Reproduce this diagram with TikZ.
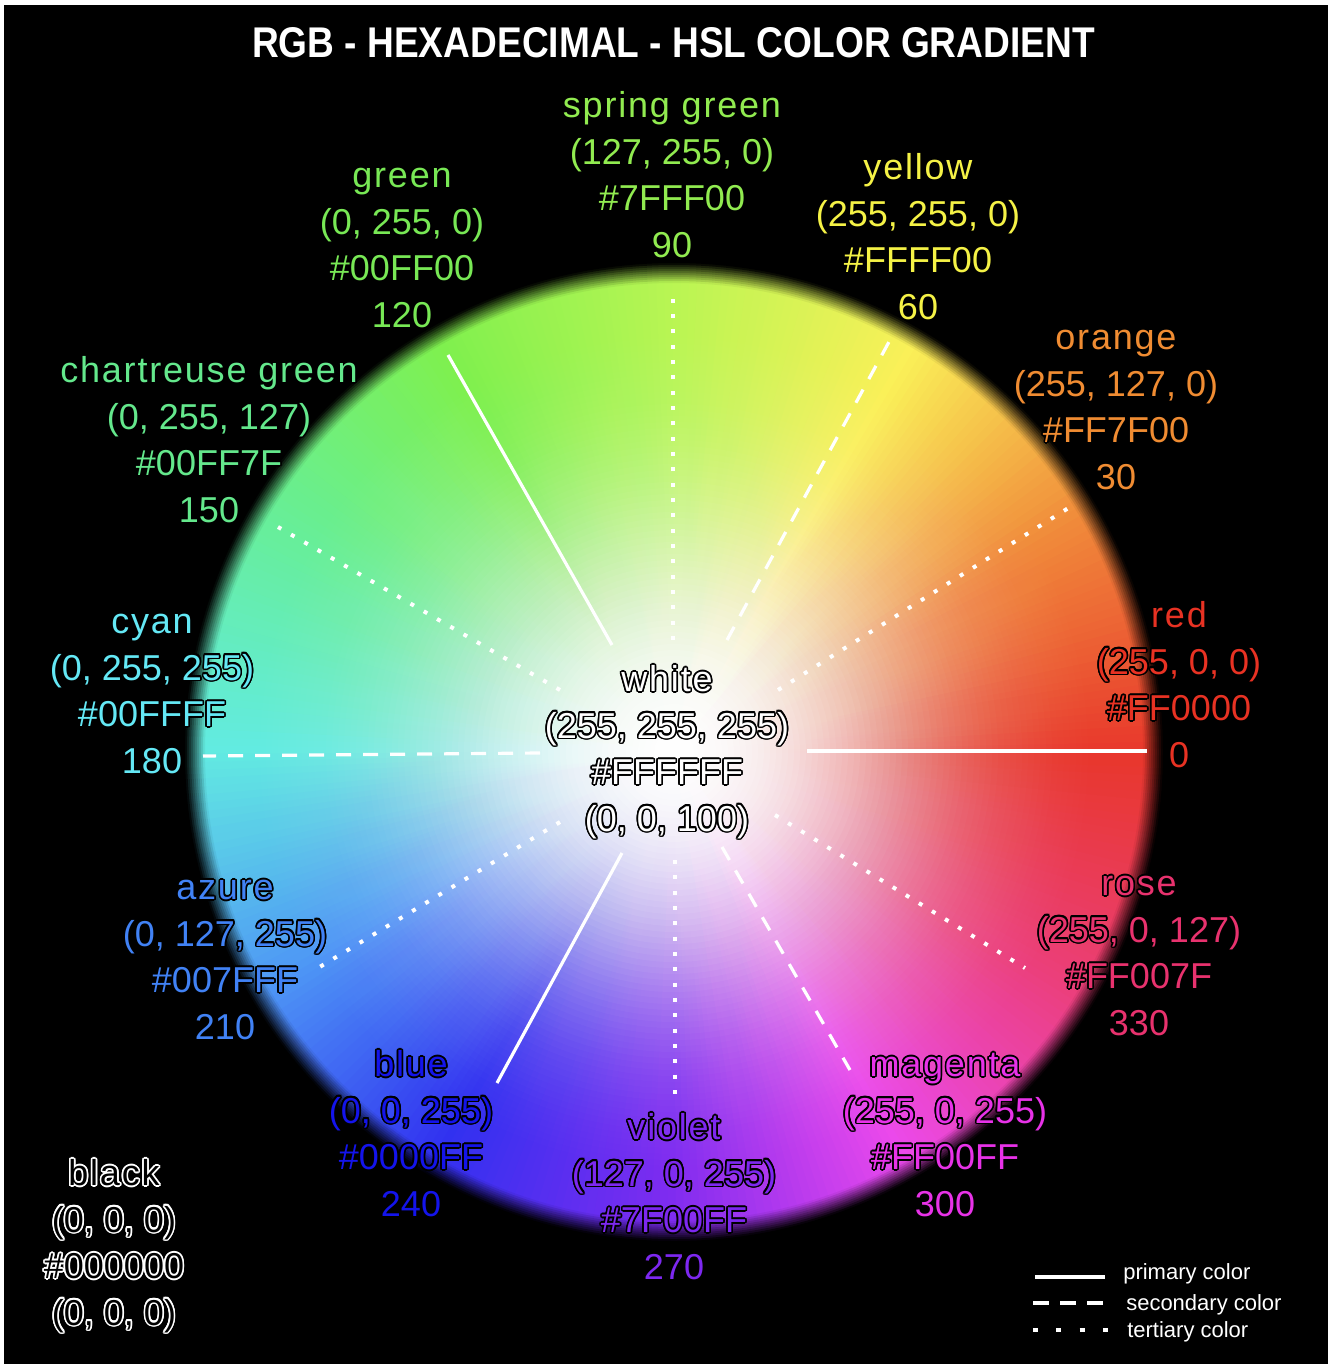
\documentclass[tikz,border=0pt]{standalone}
\usepackage{graphicx}
\usepackage{fontspec}
\setmainfont{Liberation Sans}
\newfontfamily\namefont{Liberation Sans}[LetterSpace=5]
\newfontfamily\numfont{Liberation Sans}

% wheel key colours (edge), every 30 degrees
\definecolor{k0}{RGB}{232,52,40}
\definecolor{k1}{RGB}{240,135,55}
\definecolor{k2}{RGB}{250,240,85}
\definecolor{k3}{RGB}{185,245,80}
\definecolor{k4}{RGB}{125,240,75}
\definecolor{k5}{RGB}{100,238,150}
\definecolor{k6}{RGB}{95,235,225}
\definecolor{k7}{RGB}{75,150,245}
\definecolor{k8}{RGB}{45,45,240}
\definecolor{k9}{RGB}{125,40,240}
\definecolor{k10}{RGB}{235,70,235}
\definecolor{k11}{RGB}{235,60,120}

% label colours
\definecolor{tSG}{RGB}{145,235,80}
\definecolor{tG}{RGB}{120,232,85}
\definecolor{tY}{RGB}{245,242,70}
\definecolor{tO}{RGB}{240,140,50}
\definecolor{tCh}{RGB}{100,232,140}
\definecolor{tR}{RGB}{232,50,35}
\definecolor{tC}{RGB}{100,232,245}
\definecolor{tA}{RGB}{65,130,245}
\definecolor{tRo}{RGB}{232,50,110}
\definecolor{tB}{RGB}{20,20,235}
\definecolor{tM}{RGB}{232,50,232}
\definecolor{tV}{RGB}{125,40,240}

% outlined text
\newlength\olw \setlength\olw{1.2pt}
\newcommand\olcp[4]{\makebox[0pt][l]{\hspace*{#1\olw}\raisebox{#2\olw}{\textcolor{#3}{#4}}}}
\newcommand\olt[2]{%
\olcp{1}{0}{#1}{#2}\olcp{0.924}{0.383}{#1}{#2}\olcp{0.707}{0.707}{#1}{#2}\olcp{0.383}{0.924}{#1}{#2}%
\olcp{0}{1}{#1}{#2}\olcp{-0.383}{0.924}{#1}{#2}\olcp{-0.707}{0.707}{#1}{#2}\olcp{-0.924}{0.383}{#1}{#2}%
\olcp{-1}{0}{#1}{#2}\olcp{-0.924}{-0.383}{#1}{#2}\olcp{-0.707}{-0.707}{#1}{#2}\olcp{-0.383}{-0.924}{#1}{#2}%
\olcp{0}{-1}{#1}{#2}\olcp{0.383}{-0.924}{#1}{#2}\olcp{0.707}{-0.707}{#1}{#2}\olcp{0.924}{-0.383}{#1}{#2}%
#2}

\newcommand\wlabel[9]{%
 \node[nmtxt, text=#4] (#1-1) at (#2,#3-46.5) {\olt{#5}{#6}};
 \node[numtxt, text=#4] (#1-2) at (#2,#3) {\olt{#5}{#7}};
 \node[numtxt, text=#4] (#1-3) at (#2,#3+46.5) {\olt{#5}{#8}};
 \node[numtxt, text=#4] (#1-4) at (#2,#3+93) {\olt{#5}{#9}};}

\begin{document}
\begin{tikzpicture}[x=0.75pt,y=-0.75pt,
  nmtxt/.style={inner sep=0pt, anchor=base, font=\namefont\fontsize{27pt}{35pt}\selectfont},
  numtxt/.style={inner sep=0pt, anchor=base, font=\numfont\fontsize{27pt}{35pt}\selectfont},
  legtxt/.style={inner sep=0pt, anchor=base west, text=white, font=\fontsize{16.5pt}{20pt}\selectfont},
  prim/.style={white, line width=2.4pt},
  seco/.style={white, line width=2.4pt, dash pattern=on 11.25pt off 9pt},
  tert/.style={white, line width=3pt, dash pattern=on 3pt off 8.5pt}]
\fill[white] (0,0) rectangle (1336,1370);
\useasboundingbox (0,0) rectangle (1336,1370);
\fill[black] (4,5) rectangle (1328,1364);

% colour wheel: hue wedges
\coordinate (W) at (674,752);
\begin{scope}
\clip (W) circle (494);
\begin{scope}[shift={(W)}]
\foreach \k [evaluate=\k as \kn using {int(mod(\k+1,12))}] in {0,...,11}{
  \foreach \j in {0,...,29}{
    \pgfmathtruncatemacro\p{100-\j*100/30}
    \pgfmathsetmacro\a{30*\k+\j}
    \fill[fill=k\k!\p!k\kn] (0,0) -- ({-\a+0.8}:498) -- ({-\a-0.8}:498) -- cycle;
  }
}
\end{scope}
\end{scope}
% white centre: stacked discs of growing opacity (g = 1 - opacity)
\gdef\Gprev{1}
\foreach \k in {0,...,79}{
  \pgfmathsetmacro\R{480-6*\k}
  \pgfmathsetmacro\Gk{max(0.0005,1-exp(-(((\R-3)/270)^2.4)))}
  \pgfmathsetmacro\al{max(0,1-\Gk/\Gprev)}
  \fill[white, fill opacity=\al] (W) circle (\R);
  \global\let\Gprev\Gk
}
\fill[white, fill opacity=0.6] (W) circle (20);
% soft black edge: stacked rings
\gdef\Dprev{0}
\foreach \k in {0,...,9}{
  \pgfmathsetmacro\Ri{469+2*\k}
  \pgfmathsetmacro\Dk{min(0.95,(\k+0.5)/10)}
  \pgfmathsetmacro\be{max(0,1-(1-\Dk)/(1-\Dprev))}
  \fill[black, fill opacity=\be, even odd rule] (W) circle (\Ri) (W) circle (500);
  \global\let\Dprev\Dk
}
\fill[black, even odd rule] (W) circle (489) (W) circle (500);

% spokes
\coordinate (s0a) at (807,751);  \coordinate (s0b) at (1147,751);
\coordinate (s30a) at (778,690); \coordinate (s30b) at (1070,507);
\coordinate (s60a) at (727,640); \coordinate (s60b) at (890,340);
\coordinate (s90a) at (673,640); \coordinate (s90b) at (673,295);
\coordinate (s120a) at (612,645); \coordinate (s120b) at (448,355);
\coordinate (s150a) at (560,690); \coordinate (s150b) at (278,527);
\coordinate (s180a) at (540,753); \coordinate (s180b) at (203,756);
\coordinate (s210a) at (560,822); \coordinate (s210b) at (318,968);
\coordinate (s240a) at (622,853); \coordinate (s240b) at (497,1083);
\coordinate (s270a) at (675,860); \coordinate (s270b) at (675,1095);
\coordinate (s300a) at (722,847); \coordinate (s300b) at (850,1070);
\coordinate (s330a) at (775,815); \coordinate (s330b) at (1025,968);
\draw[prim] (s0a) -- (s0b);
\draw[prim] (s120a) -- (s120b);
\draw[prim] (s240a) -- (s240b);
\draw[seco] (s60a) -- (s60b);
\draw[seco] (s180a) -- (s180b);
\draw[seco] (s300a) -- (s300b);
\draw[tert] (s30a) -- (s30b);
\draw[tert] (s90a) -- (s90b);
\draw[tert] (s150a) -- (s150b);
\draw[tert] (s210a) -- (s210b);
\draw[tert] (s270a) -- (s270b);
\draw[tert] (s330a) -- (s330b);

% title
\node[inner sep=0pt, anchor=base, text=white] (title) at (673.5,58)
  {\resizebox{632pt}{22.5pt}{\bfseries RGB - HEXADECIMAL - HSL COLOR GRADIENT}};

% labels
\wlabel{sg}{672}{164}{tSG}{black}{spring green}{(127, 255, 0)}{\#7FFF00}{90}
\wlabel{gr}{402}{234}{tG}{black}{green}{(0, 255, 0)}{\#00FF00}{120}
\wlabel{ye}{918}{226}{tY}{black}{yellow}{(255, 255, 0)}{\#FFFF00}{60}
\wlabel{or}{1116}{396}{tO}{black}{orange}{(255, 127, 0)}{\#FF7F00}{30}
\wlabel{ch}{209}{429}{tCh}{black}{chartreuse green}{(0, 255, 127)}{\#00FF7F}{150}
\wlabel{re}{1179}{674}{tR}{black}{red}{(255, 0, 0)}{\#FF0000}{0}
\wlabel{cy}{152}{680}{tC}{black}{cyan}{(0, 255, 255)}{\#00FFFF}{180}
\wlabel{wh}{667}{738}{white}{black}{white}{(255, 255, 255)}{\#FFFFFF}{(0, 0, 100)}
\wlabel{az}{225}{946}{tA}{black}{azure}{(0, 127, 255)}{\#007FFF}{210}
\wlabel{ro}{1139}{942}{tRo}{black}{rose}{(255, 0, 127)}{\#FF007F}{330}
\wlabel{bl}{411}{1123}{tB}{black}{blue}{(0, 0, 255)}{\#0000FF}{240}
\wlabel{ma}{945}{1123}{tM}{black}{magenta}{(255, 0, 255)}{\#FF00FF}{300}
\wlabel{vi}{674}{1186}{tV}{black}{violet}{(127, 0, 255)}{\#7F00FF}{270}
\wlabel{bk}{114}{1232}{black}{white}{black}{(0, 0, 0)}{\#000000}{(0, 0, 0)}

% legend
\coordinate (l1a) at (1035,1277); \coordinate (l1b) at (1105,1277);
\coordinate (l2a) at (1033,1303); \coordinate (l2b) at (1103,1303);
\coordinate (l3a) at (1033,1330); \coordinate (l3b) at (1108,1330);
\draw[white, line width=2.6pt] (l1a) -- (l1b);
\draw[white, line width=2.4pt, dash pattern=on 12pt off 8.25pt] (l2a) -- (l2b);
\draw[white, line width=3.6pt, dash pattern=on 3.75pt off 13.75pt] (l3a) -- (l3b);
\node[legtxt] (lt1) at (1123,1279) {primary color};
\node[legtxt] (lt2) at (1126,1310) {secondary color};
\node[legtxt] (lt3) at (1127,1337) {tertiary color};
\end{tikzpicture}
\end{document}
